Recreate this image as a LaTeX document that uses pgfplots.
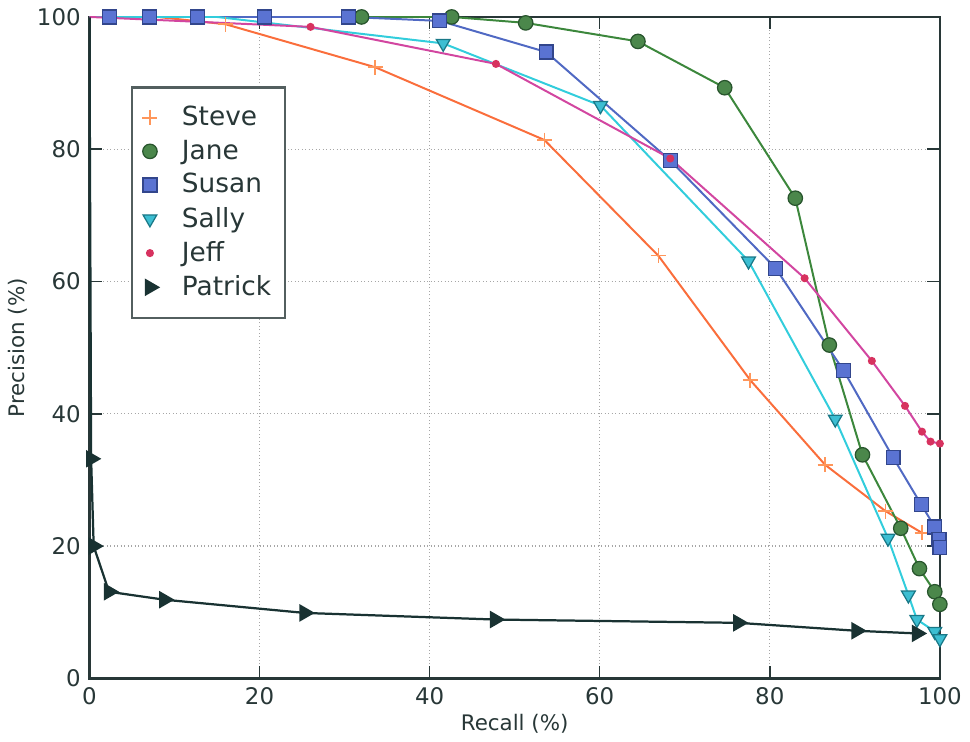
\documentclass[border=0pt]{standalone}
\usepackage{pgfplots}
\pgfplotsset{compat=1.18}
\usepackage{fontspec}
\setmainfont{DejaVu Sans}

\definecolor{txt}{RGB}{40,55,55}
\definecolor{stevec}{RGB}{250,110,60}
\definecolor{stevem}{RGB}{255,150,90}
\definecolor{janec}{RGB}{60,135,60}
\definecolor{janef}{RGB}{75,135,75}
\definecolor{janee}{RGB}{40,85,45}
\definecolor{susanc}{RGB}{80,105,195}
\definecolor{susanf}{RGB}{90,115,210}
\definecolor{susane}{RGB}{50,70,140}
\definecolor{sallyc}{RGB}{50,205,220}
\definecolor{sallyf}{RGB}{60,190,210}
\definecolor{sallye}{RGB}{25,120,135}
\definecolor{jeffc}{RGB}{210,70,160}
\definecolor{jeffm}{RGB}{215,50,95}
\definecolor{patc}{RGB}{25,50,50}

\begin{document}
\begin{tikzpicture}
\begin{axis}[
    scale only axis,
    width=342pt, height=266pt,
    xmin=0, xmax=100, ymin=0, ymax=100,
    xtick={0,20,40,60,80,100},
    ytick={0,20,40,60,80,100},
    grid=major,
    major grid style={densely dotted, gray!70, line width=0.5pt},
    axis line style={txt, line width=0.9pt},
    tick style={txt, line width=0.6pt},
    major tick length=5pt,
    tick align=inside,
    ticklabel style={font=\fontsize{9.2}{11}\selectfont, text=txt},
    /pgf/number format/assume math mode=true,
    xlabel={Recall (\%)}, ylabel={Precision (\%)},
    label style={font=\fontsize{8.6}{10}\selectfont, text=txt},
    xlabel style={yshift=3pt},
    ylabel style={yshift=-3pt},
    legend cell align=left,
    legend style={
        at={(0.049,0.895)}, anchor=north west,
        draw=txt!80, line width=0.9pt, fill=white,
        font=\fontsize{10.6}{12}\selectfont, text=txt,
        row sep=1.2pt, inner xsep=4pt, inner ysep=6pt,
        nodes={inner sep=1.5pt}
    },
    legend image code/.code={\draw[#1, only marks, mark indices={1}] plot coordinates {(0cm,0cm)};
        \path[draw=none, fill=none] (-0.11cm,0cm) -- (0.40cm,0cm);},
]

% Steve
\addplot[stevec, line width=0.8pt, mark=+, mark size=3pt, mark indices={3,...,10},
    mark options={stevem, line width=0.6pt}]
  coordinates {(0,100) (8,100) (16.0,98.9) (33.6,92.4) (53.5,81.4) (66.9,63.9)
    (77.7,45.1) (86.5,32.3) (93.6,25.3) (97.9,22.0)};

% Jane
\addplot[janec, line width=0.8pt, mark=*, mark size=2.9pt, mark indices={2,...,13},
    mark options={fill=janef, draw=janee, line width=0.5pt}]
  coordinates {(0,100) (32.0,100) (42.6,100) (51.3,99.1) (64.5,96.3) (74.7,89.3)
    (83.0,72.6) (87.0,50.4) (90.9,33.8) (95.4,22.7) (97.6,16.6) (99.4,13.1) (100,11.2)};

% Susan
\addplot[susanc, line width=0.8pt, mark=square*, mark size=2.8pt,
    mark options={fill=susanf, draw=susane, line width=0.5pt}]
  coordinates {(2.4,100) (7.1,100) (12.7,100) (20.6,100) (30.5,100) (41.2,99.4)
    (53.7,94.7) (68.3,78.3) (80.7,62.0) (88.7,46.5) (94.5,33.4) (97.8,26.3)
    (99.4,22.9) (99.9,21.0) (100,19.8)};

% Sally
\addplot[sallyc, line width=0.8pt, mark=triangle*, mark size=3.2pt, mark indices={3,...,11},
    mark options={rotate=180, fill=sallyf, draw=sallye, line width=0.5pt}]
  coordinates {(0,100) (15,100) (41.6,96.0) (60.1,86.6) (77.5,63.1) (87.7,39.2)
    (93.9,21.2) (96.3,12.6) (97.3,8.9) (99.4,7.1) (100,6.0)};

% Jeff
\addplot[jeffc, line width=0.8pt, mark=*, mark size=1.2pt, mark indices={2,...,10},
    mark options={fill=jeffm, draw=jeffm}]
  coordinates {(0,100) (26.0,98.5) (47.8,92.9) (68.3,78.6) (84.1,60.5) (92.0,48.0)
    (95.9,41.2) (97.9,37.3) (98.9,35.8) (100,35.5)};

% Patrick
\addplot[patc, line width=0.9pt, mark=triangle*, mark size=3.2pt, mark indices={2,...,10},
    mark options={rotate=-90, fill=patc, draw=patc}]
  coordinates {(0,100) (0.2,33.2) (0.5,20.0) (2.3,13.1) (8.8,11.9) (25.3,9.9)
    (47.7,8.9) (76.3,8.4) (90.2,7.2) (97.3,6.8)};

\legend{Steve, Jane, Susan, Sally, Jeff, Patrick}
\end{axis}
\end{tikzpicture}
\end{document}
